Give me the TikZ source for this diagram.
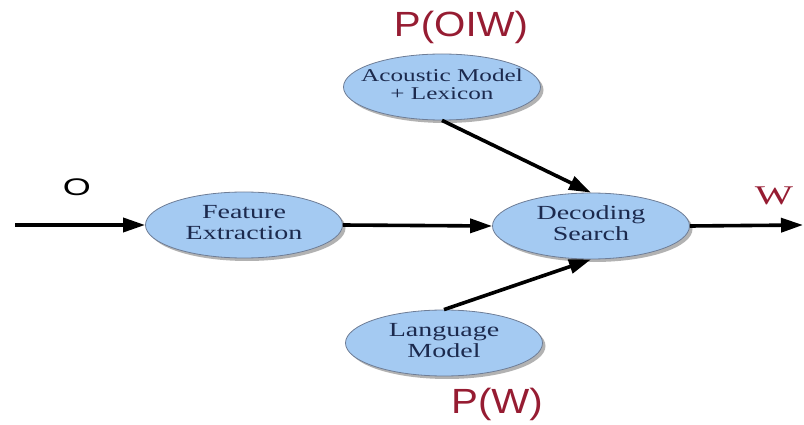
\documentclass[tikz,border=0pt]{standalone}
\usepackage{fontspec}
\setmainfont{Liberation Serif}
\setsansfont{Liberation Sans}
\usepackage{graphicx}
\usetikzlibrary{shapes.geometric,shadows,arrows.meta}
\definecolor{ellfill}{RGB}{164,202,242}
\definecolor{ellline}{RGB}{110,125,150}
\definecolor{txtblue}{RGB}{28,42,78}
\definecolor{probred}{RGB}{150,28,50}
\newcommand\wtext[1]{\scalebox{1.4}[1]{\begin{tabular}{@{}c@{}}#1\end{tabular}}}
\newcommand\wlabel[2]{\scalebox{#1}[1]{#2}}
\tikzset{
  ell/.style={ellipse, draw=ellline, line width=0.8pt, fill=ellfill,
    inner xsep=-15pt, inner ysep=-5pt,
    minimum width=197pt, minimum height=66pt,
    text=txtblue, font=\fontsize{20}{20.5}\selectfont,
    drop shadow={shadow xshift=3pt, shadow yshift=-3pt, fill=black!60}},
  arr/.style={line width=3.6pt, -{Triangle[length=22pt,width=14pt]}},
  prob/.style={text=probred, font=\sffamily\fontsize{35}{35}\selectfont},
}
\begin{document}
\begin{tikzpicture}[x=1pt,y=-1pt]
\useasboundingbox (0,0) rectangle (804,425);
\node[ell, font=\fontsize{18}{17.5}\selectfont] (ac) at (442,87) {\wtext{Acoustic Model\\+ Lexicon}};
\node[ell] (fe) at (244,225) {\wtext{Feature\\Extraction}};
\node[ell] (dec) at (591,226) {\wtext{Decoding\\Search}};
\node[ell] (lm) at (444,343) {\wtext{Language\\Model}};
\coordinate (in) at (15,225);
\coordinate (out) at (803,225);
\draw[arr] (in) -- (fe.west);
\draw[arr] (fe.east) -- (dec.west);
\draw[arr] (ac.south) -- (dec.north);
\draw[arr] (lm.north) -- (dec.south);
\draw[arr] (dec.east) -- (out);
\node[prob] (pow) at (461,27) {\wlabel{1.15}{P(OIW)}};
\node[prob] (pw) at (497,404) {\wlabel{1.15}{P(W)}};
\node[font=\sffamily\fontsize{24}{24}\selectfont] (o) at (77,187) {\wlabel{1.5}{O}};
\node[text=probred, font=\fontsize{27}{27}\selectfont] (w) at (774,196) {\wlabel{1.5}{W}};
\end{tikzpicture}
\end{document}
